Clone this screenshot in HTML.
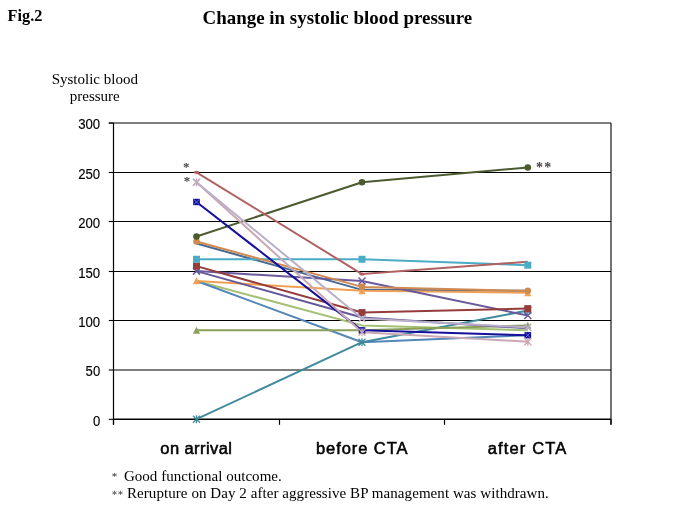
<!DOCTYPE html>
<html><head><meta charset="utf-8"><style>html,body{margin:0;padding:0;width:685px;height:513px;overflow:hidden;background:#fff}</style></head>
<body><svg width="685" height="513" viewBox="0 0 685 513" style="position:absolute;left:0;top:0;will-change:transform">
<rect width="685" height="513" fill="#fff"/>
<text x="7.6" y="20.9" font-family="Liberation Serif" font-weight="bold" font-size="16" textLength="34.8" lengthAdjust="spacingAndGlyphs" fill="#000">Fig.2</text>
<text x="202.5" y="23.5" font-family="Liberation Serif" font-weight="bold" font-size="19" textLength="269.6" lengthAdjust="spacingAndGlyphs" fill="#000">Change in systolic blood pressure</text>
<text x="94.8" y="83.6" text-anchor="middle" font-family="Liberation Serif" font-size="15" fill="#000">Systolic blood</text>
<text x="94.8" y="100.8" text-anchor="middle" font-family="Liberation Serif" font-size="15" fill="#000">pressure</text>
<line x1="113.5" y1="370" x2="611" y2="370" stroke="#000" stroke-width="1.1"/><line x1="113.5" y1="320.5" x2="611" y2="320.5" stroke="#000" stroke-width="1.1"/><line x1="113.5" y1="271.5" x2="611" y2="271.5" stroke="#000" stroke-width="1.1"/><line x1="113.5" y1="221.5" x2="611" y2="221.5" stroke="#000" stroke-width="1.1"/><line x1="113.5" y1="172.5" x2="611" y2="172.5" stroke="#000" stroke-width="1.1"/>
<line x1="108.8" y1="123" x2="611" y2="123" stroke="#000" stroke-width="1.1"/>
<line x1="611" y1="123" x2="611" y2="424.8" stroke="#000" stroke-width="1.1"/>
<line x1="113.5" y1="123" x2="113.5" y2="424.8" stroke="#000" stroke-width="1.2"/>
<line x1="113.5" y1="419.3" x2="611" y2="419.3" stroke="#000" stroke-width="1.4"/>
<line x1="108.8" y1="419.3" x2="113.5" y2="419.3" stroke="#000" stroke-width="1.1"/><text x="100.2" y="425.5" text-anchor="end" font-family="Liberation Sans" font-size="15.2" textLength="7.3" lengthAdjust="spacingAndGlyphs" fill="#000" stroke="#000" stroke-width="0.15">0</text><line x1="108.8" y1="370" x2="113.5" y2="370" stroke="#000" stroke-width="1.1"/><text x="100.2" y="376.2" text-anchor="end" font-family="Liberation Sans" font-size="15.2" textLength="14.6" lengthAdjust="spacingAndGlyphs" fill="#000" stroke="#000" stroke-width="0.15">50</text><line x1="108.8" y1="320.5" x2="113.5" y2="320.5" stroke="#000" stroke-width="1.1"/><text x="100.2" y="326.7" text-anchor="end" font-family="Liberation Sans" font-size="15.2" textLength="22.0" lengthAdjust="spacingAndGlyphs" fill="#000" stroke="#000" stroke-width="0.15">100</text><line x1="108.8" y1="271.5" x2="113.5" y2="271.5" stroke="#000" stroke-width="1.1"/><text x="100.2" y="277.7" text-anchor="end" font-family="Liberation Sans" font-size="15.2" textLength="22.0" lengthAdjust="spacingAndGlyphs" fill="#000" stroke="#000" stroke-width="0.15">150</text><line x1="108.8" y1="221.5" x2="113.5" y2="221.5" stroke="#000" stroke-width="1.1"/><text x="100.2" y="227.7" text-anchor="end" font-family="Liberation Sans" font-size="15.2" textLength="22.0" lengthAdjust="spacingAndGlyphs" fill="#000" stroke="#000" stroke-width="0.15">200</text><line x1="108.8" y1="172.5" x2="113.5" y2="172.5" stroke="#000" stroke-width="1.1"/><text x="100.2" y="178.7" text-anchor="end" font-family="Liberation Sans" font-size="15.2" textLength="22.0" lengthAdjust="spacingAndGlyphs" fill="#000" stroke="#000" stroke-width="0.15">250</text><line x1="108.8" y1="123" x2="113.5" y2="123" stroke="#000" stroke-width="1.1"/><text x="100.2" y="129.2" text-anchor="end" font-family="Liberation Sans" font-size="15.2" textLength="22.0" lengthAdjust="spacingAndGlyphs" fill="#000" stroke="#000" stroke-width="0.15">300</text><line x1="113.5" y1="419" x2="113.5" y2="424.8" stroke="#000" stroke-width="1.2"/><line x1="279.5" y1="419" x2="279.5" y2="424.8" stroke="#000" stroke-width="1.2"/><line x1="444.5" y1="419" x2="444.5" y2="424.8" stroke="#000" stroke-width="1.2"/><line x1="611" y1="419" x2="611" y2="424.8" stroke="#000" stroke-width="1.2"/>
<polyline points="196.5,243.45 362,289.86 527.8,290.85" fill="none" stroke="#4a6a94" stroke-width="2" stroke-linejoin="round"/><polyline points="196.5,280.97 362,325.40 527.8,330.34" fill="none" stroke="#a4c072" stroke-width="2" stroke-linejoin="round"/><polyline points="196.5,280.97 362,342.19 527.8,335.28" fill="none" stroke="#5586b8" stroke-width="2" stroke-linejoin="round"/><polyline points="196.5,419.20 362,342.19 527.8,310.59" fill="none" stroke="#3f8a9c" stroke-width="2" stroke-linejoin="round"/><polyline points="196.5,330.34 362,330.34 527.8,325.40" fill="none" stroke="#8aa05a" stroke-width="2" stroke-linejoin="round"/><polyline points="196.5,280.97 362,290.85 527.8,292.82" fill="none" stroke="#f0a055" stroke-width="2" stroke-linejoin="round"/><polyline points="196.5,271.10 362,317.50 527.8,328.37" fill="none" stroke="#65589a" stroke-width="2" stroke-linejoin="round"/><polyline points="196.5,271.10 362,280.97 527.8,315.53" fill="none" stroke="#6a5a9c" stroke-width="2" stroke-linejoin="round"/><polyline points="196.5,266.16 362,312.57 527.8,308.62" fill="none" stroke="#953c3c" stroke-width="2" stroke-linejoin="round"/><polyline points="196.5,259.25 362,259.25 527.8,265.18" fill="none" stroke="#4bacc6" stroke-width="2" stroke-linejoin="round"/><polyline points="196.5,241.48 362,286.90 527.8,290.85" fill="none" stroke="#d08a50" stroke-width="2" stroke-linejoin="round"/><polyline points="196.5,236.54 362,182.24 527.8,167.43" fill="none" stroke="#4c5a30" stroke-width="2" stroke-linejoin="round"/><polyline points="196.5,201.99 362,330.34 527.8,335.28" fill="none" stroke="#16109a" stroke-width="2" stroke-linejoin="round"/><polyline points="196.5,182.24 362,332.31 527.8,341.69" fill="none" stroke="#caa8b4" stroke-width="2" stroke-linejoin="round"/><polyline points="196.5,182.24 362,318.49 527.8,327.38" fill="none" stroke="#b9afc9" stroke-width="2" stroke-linejoin="round"/><polyline points="196.5,172.37 362,274.06 527.8,261.72" fill="none" stroke="#b06262" stroke-width="2" stroke-linejoin="round"/>
<path d="M193.0 415.70L200.0 422.70M200.0 415.70L193.0 422.70M196.5 415.20L196.5 423.20" stroke="#3f8a9c" stroke-width="1.3"/><path d="M358.5 338.69L365.5 345.69M365.5 338.69L358.5 345.69M362 338.19L362 346.19" stroke="#3f8a9c" stroke-width="1.3"/><path d="M524.3 307.09L531.3 314.09M531.3 307.09L524.3 314.09M527.8 306.59L527.8 314.59" stroke="#3f8a9c" stroke-width="1.3"/><path d="M196.5 326.74L200.1 333.74L192.9 333.74Z" fill="#8aa05a"/><path d="M362 326.74L365.6 333.74L358.4 333.74Z" fill="#8aa05a"/><path d="M527.8 321.80L531.4 328.80L524.1999999999999 328.80Z" fill="#8aa05a"/><path d="M196.5 277.37L200.1 284.37L192.9 284.37Z" fill="#f0a055"/><path d="M362 287.25L365.6 294.25L358.4 294.25Z" fill="#f0a055"/><path d="M527.8 289.22L531.4 296.22L524.1999999999999 296.22Z" fill="#f0a055"/><path d="M193.0 267.60L200.0 274.60M200.0 267.60L193.0 274.60" stroke="#6a5a9c" stroke-width="1.5"/><path d="M358.5 277.47L365.5 284.47M365.5 277.47L358.5 284.47" stroke="#6a5a9c" stroke-width="1.5"/><path d="M524.3 312.03L531.3 319.03M531.3 312.03L524.3 319.03" stroke="#6a5a9c" stroke-width="1.5"/><rect x="193.00" y="262.66" width="7.0" height="7.0" fill="#953c3c"/><rect x="358.50" y="309.07" width="7.0" height="7.0" fill="#953c3c"/><rect x="524.30" y="305.12" width="7.0" height="7.0" fill="#953c3c"/><rect x="193.00" y="255.75" width="7.0" height="7.0" fill="#4bacc6"/><rect x="358.50" y="255.75" width="7.0" height="7.0" fill="#4bacc6"/><rect x="524.30" y="261.68" width="7.0" height="7.0" fill="#4bacc6"/><circle cx="196.5" cy="241.48" r="3.3" fill="#d08a50"/><circle cx="362" cy="286.90" r="3.3" fill="#d08a50"/><circle cx="527.8" cy="290.85" r="3.3" fill="#d08a50"/><circle cx="196.5" cy="236.54" r="3.3" fill="#4c5a30"/><circle cx="362" cy="182.24" r="3.3" fill="#4c5a30"/><circle cx="527.8" cy="167.43" r="3.3" fill="#4c5a30"/><rect x="193.20" y="198.79" width="6.6" height="6.4" fill="#0c0a90"/><path d="M194.10 199.69L198.90 204.29M198.90 199.69L194.10 204.29" stroke="#7070f0" stroke-width="1"/><rect x="358.70" y="327.14" width="6.6" height="6.4" fill="#0c0a90"/><path d="M359.60 328.04L364.40 332.64M364.40 328.04L359.60 332.64" stroke="#7070f0" stroke-width="1"/><rect x="524.50" y="332.08" width="6.6" height="6.4" fill="#0c0a90"/><path d="M525.40 332.98L530.20 337.58M530.20 332.98L525.40 337.58" stroke="#7070f0" stroke-width="1"/><path d="M193.0 178.74L200.0 185.74M200.0 178.74L193.0 185.74M196.5 178.24L196.5 186.24" stroke="#caa8b4" stroke-width="1.3"/><path d="M358.5 328.81L365.5 335.81M365.5 328.81L358.5 335.81M362 328.31L362 336.31" stroke="#caa8b4" stroke-width="1.3"/><path d="M524.3 338.19L531.3 345.19M531.3 338.19L524.3 345.19M527.8 337.69L527.8 345.69" stroke="#caa8b4" stroke-width="1.3"/><path d="M193.0 178.74L200.0 185.74M200.0 178.74L193.0 185.74" stroke="#b9afc9" stroke-width="1.5"/><path d="M358.5 314.99L365.5 321.99M365.5 314.99L358.5 321.99" stroke="#b9afc9" stroke-width="1.5"/><path d="M524.3 323.88L531.3 330.88M531.3 323.88L524.3 330.88" stroke="#b9afc9" stroke-width="1.5"/><ellipse cx="196.5" cy="172.37" rx="2.8" ry="1.6" fill="#b06262"/><ellipse cx="362" cy="274.06" rx="2.8" ry="1.6" fill="#b06262"/>
<text x="183.1" y="171.4" font-family="Liberation Serif" font-weight="bold" font-size="13" fill="#444">*</text>
<text x="183.8" y="185.4" font-family="Liberation Serif" font-weight="bold" font-size="13" fill="#444">*</text>
<text x="536.1" y="171.8" font-family="Liberation Serif" font-weight="bold" font-size="14" fill="#444">*</text>
<text x="544.3" y="171.8" font-family="Liberation Serif" font-weight="bold" font-size="14" fill="#444">*</text>
<text x="160.3" y="453.8" font-family="Liberation Sans" font-size="16.5" fill="#000" stroke="#000" stroke-width="0.55" textLength="71.6" lengthAdjust="spacing">on arrival</text>
<text x="315.9" y="453.8" font-family="Liberation Sans" font-size="16.5" fill="#000" stroke="#000" stroke-width="0.55" textLength="91.6" lengthAdjust="spacing">before CTA</text>
<text x="487.8" y="453.8" font-family="Liberation Sans" font-size="16.5" fill="#000" stroke="#000" stroke-width="0.55" textLength="78.4" lengthAdjust="spacing">after CTA</text>
<path d="M114.50 472.90L114.50 476.90M112.25 473.90L116.75 475.90M116.75 473.90L112.25 475.90" stroke="#555" stroke-width="0.8" fill="none"/>
<text x="123.9" y="480.7" font-family="Liberation Serif" font-size="15" textLength="157.9" lengthAdjust="spacing" fill="#000">Good functional outcome.</text>
<path d="M114.50 490.70L114.50 494.90M112.33 491.75L116.67 493.85M116.67 491.75L112.33 493.85" stroke="#555" stroke-width="0.8" fill="none"/>
<path d="M120.50 490.70L120.50 494.90M118.33 491.75L122.67 493.85M122.67 491.75L118.33 493.85" stroke="#555" stroke-width="0.8" fill="none"/>
<text x="127" y="498.4" font-family="Liberation Serif" font-size="15" textLength="421.8" lengthAdjust="spacing" fill="#000">Rerupture on Day 2 after aggressive BP management was withdrawn.</text>
</svg></body></html>
